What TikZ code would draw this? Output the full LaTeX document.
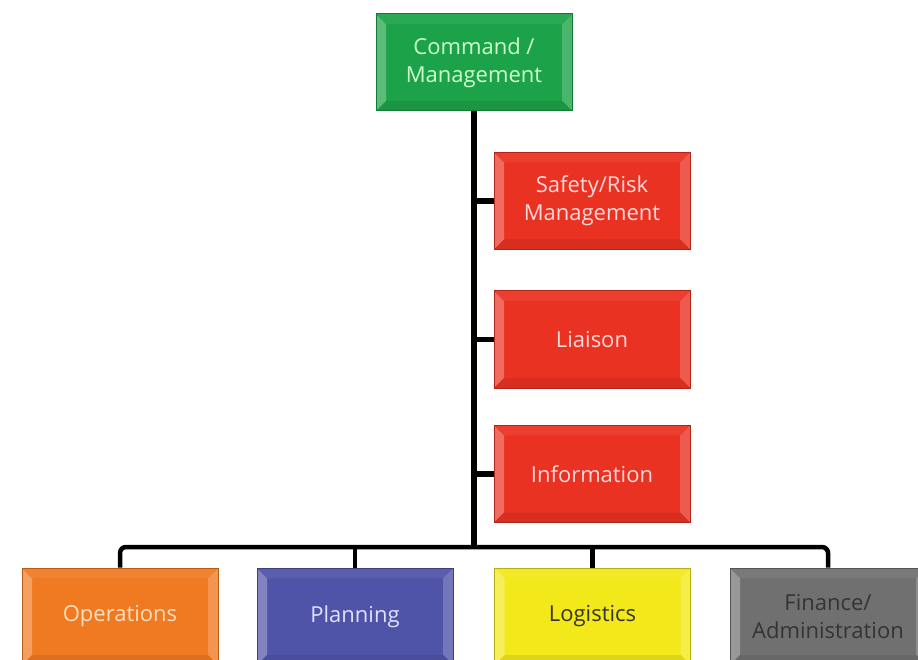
\documentclass[tikz,border=0pt]{standalone}
\usepackage{fontspec}
\setmainfont{Open Sans}
\definecolor{cgreen}{RGB}{28,162,72}
\definecolor{cred}{RGB}{234,50,34}
\definecolor{corange}{RGB}{240,122,34}
\definecolor{cblue}{RGB}{80,84,168}
\definecolor{cyellow}{RGB}{242,232,26}
\definecolor{cgray}{RGB}{112,112,112}
\definecolor{tdark}{RGB}{52,52,52}
\tikzset{
  orgbox/.style 2 args={draw=#1!75!black, line width=1pt, fill=#1,
    minimum width=196pt, minimum height=97pt, inner sep=0pt,
    align=center, font=\fontsize{22}{28}\selectfont, text=#2,
    path picture={
      \fill[#1!72!white]
        (path picture bounding box.south west) -- (path picture bounding box.north west)
        -- ([shift={(10pt,-10pt)}]path picture bounding box.north west)
        -- ([shift={(10pt,10pt)}]path picture bounding box.south west) -- cycle;
      \fill[#1!80!white]
        (path picture bounding box.south east) -- (path picture bounding box.north east)
        -- ([shift={(-10pt,-10pt)}]path picture bounding box.north east)
        -- ([shift={(-10pt,10pt)}]path picture bounding box.south east) -- cycle;
      \fill[#1!94!white]
        (path picture bounding box.north west) -- (path picture bounding box.north east)
        -- ([shift={(-10pt,-10pt)}]path picture bounding box.north east)
        -- ([shift={(10pt,-10pt)}]path picture bounding box.north west) -- cycle;
      \fill[#1!92!black]
        (path picture bounding box.south west) -- (path picture bounding box.south east)
        -- ([shift={(-10pt,10pt)}]path picture bounding box.south east)
        -- ([shift={(10pt,10pt)}]path picture bounding box.south west) -- cycle;
    }},
  conn/.style={line width=5.5pt, black},
  drop/.style={line width=4.5pt, black},
  busline/.style={line width=4.5pt, black, rounded corners=6pt}
}
\begin{document}
\begin{tikzpicture}[x=1pt,y=-1pt]
\useasboundingbox (0,0) rectangle (918,660);
\clip (0,0) rectangle (918,660);
\fill[white] (0,0) rectangle (918,660);
\coordinate (bus) at (474,547);
\node[orgbox={cgreen}{green!20!white}] (cmd) at (474,62.5) {Command /\\Management};
\node[orgbox={cred}{red!15!white}] (saf) at (592,201) {Safety/Risk\\Management};
\node[orgbox={cred}{red!15!white}] (lia) at (592,339.5) {Liaison};
\node[orgbox={cred}{red!15!white}] (inf) at (592,474) {Information};
\node[orgbox={corange}{orange!25!white}] (ops) at (120,616.5) {Operations};
\node[orgbox={cblue}{blue!12!white}] (pla) at (355,616.5) {Planning};
\node[orgbox={cyellow}{tdark}] (log) at (592.5,616.5) {Logistics};
\node[orgbox={cgray}{tdark}] (fin) at (828,616.5) {Finance/\\Administration};
\draw[conn] (cmd.south) -- (bus);
\draw[conn] (saf.west) -- (saf.west -| bus);
\draw[conn] (lia.west) -- (lia.west -| bus);
\draw[conn] (inf.west) -- (inf.west -| bus);
\draw[busline] (ops.north) -- (ops.north |- bus) -- (fin.north |- bus) -- (fin.north);
\draw[drop] (pla.north) -- (pla.north |- bus);
\draw[drop] (log.north) -- (log.north |- bus);
\end{tikzpicture}
\end{document}
